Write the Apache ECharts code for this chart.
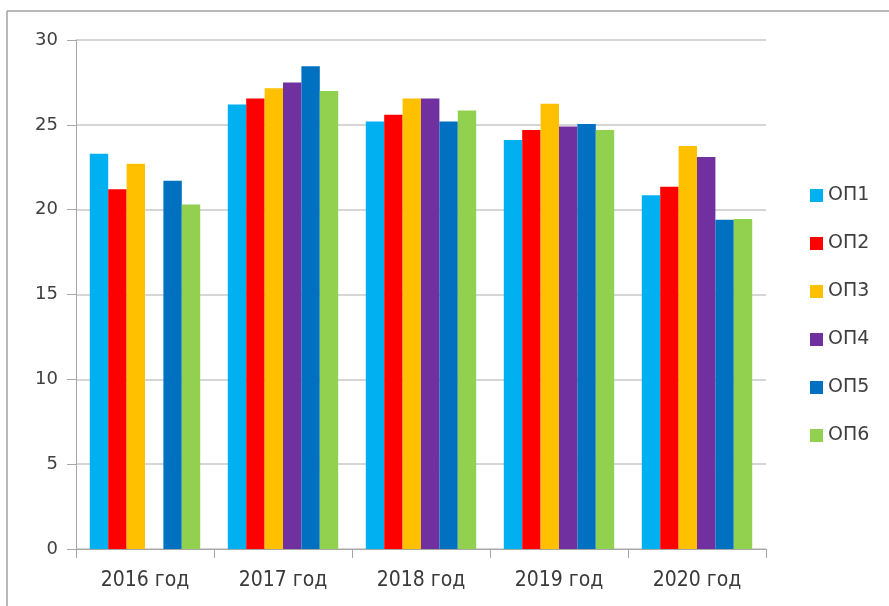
<!DOCTYPE html>
<html>
<head>
    <meta charset="utf-8">
    <title>ОП по годам</title>
    <script src="https://cdn.jsdelivr.net/npm/echarts@6/dist/echarts.min.js"></script>
    <style>
        *{margin:0;padding:0}
        #main { width: 889px; height: 606px; background: #fff; }
    </style>
</head>
<body>
    <div id="main"></div>
    <script type="text/javascript">
        // данные
        var years = ['2016 год', '2017 год', '2018 год', '2019 год', '2020 год'];
        var names = ['ОП1', 'ОП2', 'ОП3', 'ОП4', 'ОП5', 'ОП6'];
        var colors = ['#00B0F0', '#FF0000', '#FFC000', '#7030A0', '#0070C0', '#92D050'];
        var op1 = [23.3, 26.2, 25.2, 24.1, 20.85];
        var op2 = [21.2, 26.55, 25.6, 24.7, 21.35];
        var op3 = [22.7, 27.15, 26.55, 26.25, 23.75];
        var op4 = [null, 27.5, 26.55, 24.9, 23.1];
        var op5 = [21.7, 28.45, 25.2, 25.05, 19.4];
        var op6 = [20.3, 27.0, 25.85, 24.7, 19.45];
        var values = [op1, op2, op3, op4, op5, op6];

        var myChart = echarts.init(document.getElementById('main'));

        var series = names.map(function (n, i) {
            return {
                name: n,
                type: 'bar',
                data: values[i],
                barGap: '0%',
                barCategoryGap: '20%',
                itemStyle: { color: colors[i] }
            };
        });

        var option = {
            animation: false,
            color: colors,
            grid: { left: 76, right: 123, top: 40, bottom: 57 },
            legend: {
                orient: 'vertical',
                left: 805,
                top: 181,
                itemWidth: 13,
                itemHeight: 13,
                itemGap: 29,
                icon: 'rect',
                textStyle: { fontFamily: 'DejaVu Sans', fontSize: 19, color: '#404040' },
                data: names
            },
            xAxis: {
                type: 'category',
                data: years,
                axisLine: { lineStyle: { color: '#a6a6a6', width: 1 } },
                axisTick: { show: true, length: 9, lineStyle: { color: '#a6a6a6' } },
                axisLabel: { fontFamily: 'DejaVu Sans Condensed, Liberation Sans', fontSize: 21, color: '#3a3a3a', margin: 21 }
            },
            yAxis: {
                type: 'value',
                min: 0,
                max: 30,
                interval: 5,
                axisLine: { show: true, lineStyle: { color: '#a6a6a6' } },
                axisTick: { show: true, length: 9, lineStyle: { color: '#a6a6a6' } },
                splitLine: { lineStyle: { color: '#c8c8c8', width: 1.5 } },
                axisLabel: { fontFamily: 'DejaVu Sans', fontSize: 18, color: '#404040', margin: 18 }
            },
            graphic: [
                { type: 'line', shape: { x1: 7, y1: 11, x2: 889, y2: 11 }, style: { stroke: '#a0a0a0', lineWidth: 1.5 } },
                { type: 'line', shape: { x1: 7, y1: 11, x2: 7, y2: 606 }, style: { stroke: '#a0a0a0', lineWidth: 1.5 } }
            ],
            series: series
        };

        myChart.setOption(option);
    </script>
</body>
</html>
